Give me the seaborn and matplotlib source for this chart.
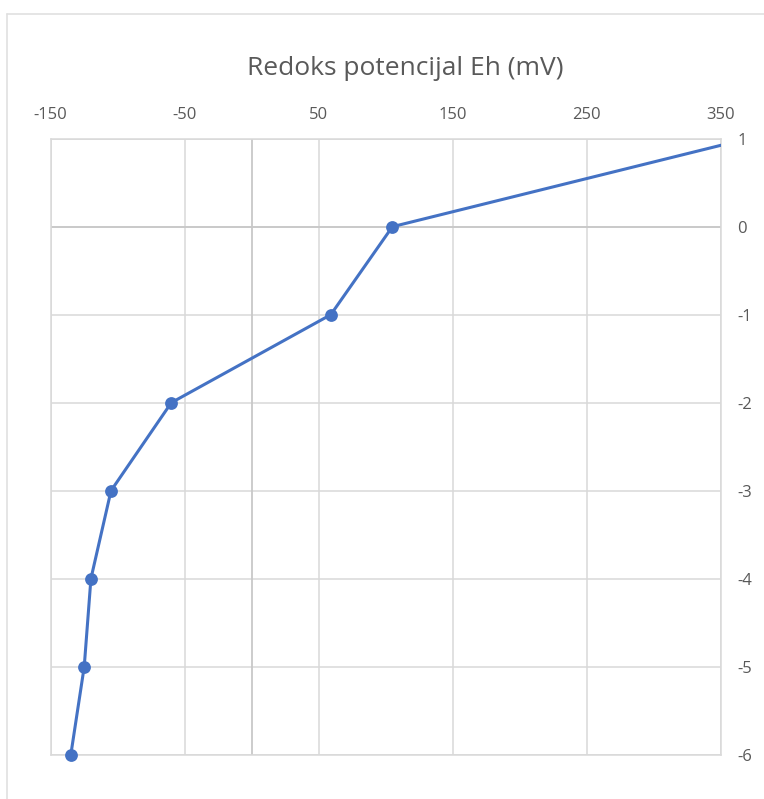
import pandas as pd
import matplotlib.pyplot as plt
import seaborn as sns
from matplotlib.lines import Line2D

# Data
eh_mv = [-135, -125, -120, -105, -60, 59, 105, 370]
depth = [-6, -5, -4, -3, -2, -1, 0, 1]
x_ticks = [-150, -50, 50, 150, 250, 350]
y_ticks = [-6, -5, -4, -3, -2, -1, 0, 1]

df = pd.DataFrame({'Eh': eh_mv, 'depth': depth})

sns.set_theme(style='white')
plt.rcParams['font.family'] = ['Open Sans', 'DejaVu Sans']
plt.rcParams['axes.unicode_minus'] = False

grid_col = '#d9d9d9'
text_col = '#595959'
line_col = '#4472C4'

fig = plt.figure(figsize=(7.64, 7.99), dpi=100)
ax = fig.add_axes([0.0664, 0.0555, 0.9433 - 0.0664, 0.8264 - 0.0555])

ax.grid(True, axis='both', color=grid_col, linewidth=1.1)
ax.axhline(0, color='#c8c8c8', linewidth=1.3, zorder=1)
ax.axvline(0, color='#c8c8c8', linewidth=1.3, zorder=1)

# line is clipped by the plot area, markers are not (last point is off-scale)
sns.lineplot(data=df, x='Eh', y='depth', sort=False, ax=ax, color=line_col,
             linewidth=2.2, zorder=3)
visible = df[df['Eh'] <= 350]
sns.scatterplot(data=visible, x='Eh', y='depth', ax=ax, color=line_col,
                s=85, linewidth=0, zorder=4, clip_on=False)

ax.set_xlim(-150, 350)
ax.set_ylim(-6, 1)
ax.set_xticks(x_ticks)
ax.set_yticks(y_ticks)
ax.xaxis.tick_top()
ax.yaxis.tick_right()
ax.tick_params(axis='x', length=0, pad=11, labelsize=12, labelcolor=text_col)
ax.tick_params(axis='y', length=0, pad=12, labelsize=12, labelcolor=text_col)
for lab in ax.get_yticklabels():
    lab.set_horizontalalignment('left')
ax.set_xlabel('')
ax.set_ylabel('')

for s in ax.spines.values():
    s.set_color(grid_col)
    s.set_linewidth(1.1)

fig.text(0.531, 0.914, 'Redoks potencijal Eh (mV)', ha='center', va='center',
         fontsize=19, color=text_col)

# outer chart border (top and left visible)
fig.add_artist(Line2D([0.009, 1.0], [0.9825, 0.9825], color='#e0e0e0', linewidth=1.2))
fig.add_artist(Line2D([0.009, 0.009], [0.0, 0.9825], color='#e0e0e0', linewidth=1.2))

fig.savefig('out.png', dpi=100, facecolor='white')
